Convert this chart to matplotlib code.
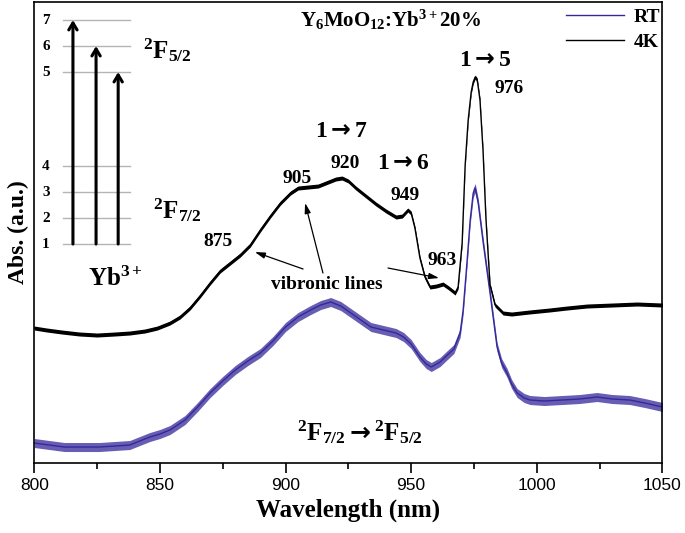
import numpy as np
import matplotlib
matplotlib.use("Agg")
import matplotlib.pyplot as plt
from matplotlib.ticker import MultipleLocator

plt.rcParams['mathtext.fontset'] = 'custom'
plt.rcParams['mathtext.rm'] = 'Liberation Serif:bold'
plt.rcParams['mathtext.bf'] = 'Liberation Serif:bold'
plt.rcParams['mathtext.it'] = 'Liberation Serif:bold'
plt.rcParams['mathtext.sf'] = 'DejaVu Sans:bold'

# 4K spectrum (wavelength nm, absorbance a.u.)
wl_4k = [800, 805, 811, 818, 825, 832, 838, 844, 849, 854,
         858, 862, 866, 870, 874, 878, 882, 886, 890, 894,
         898, 902, 905, 909, 913, 917, 920, 922.5, 925, 928,
         932, 936, 940, 944, 946.5, 948.7, 950, 951.5, 953.5, 955.5,
         957.5, 960, 962.7, 965, 967.5, 968.7, 970.3, 971.5, 972.7, 973.9,
         974.7, 975.5, 976.3, 977.4, 978.6, 979.8, 981.4, 983.4, 986.6, 990,
         997, 1005, 1012, 1020, 1030, 1040, 1050]
abs_4k = [1.35, 1.33, 1.31, 1.29, 1.28, 1.29, 1.30, 1.32, 1.35, 1.40,
          1.46, 1.55, 1.67, 1.80, 1.92, 2.00, 2.08, 2.18, 2.33, 2.47,
          2.60, 2.70, 2.75, 2.76, 2.77, 2.81, 2.84, 2.85, 2.82, 2.75,
          2.67, 2.59, 2.52, 2.46, 2.47, 2.53, 2.50, 2.35, 2.05, 1.86,
          1.76, 1.77, 1.79, 1.75, 1.70, 1.76, 2.20, 2.98, 3.43, 3.71,
          3.81, 3.86, 3.83, 3.63, 3.13, 2.43, 1.78, 1.58, 1.50, 1.49,
          1.51, 1.53, 1.55, 1.57, 1.58, 1.59, 1.58]

# room temperature spectrum
wl_rt = [800, 806, 812, 819, 826, 832, 838, 842, 846, 850,
         854, 857, 860, 865, 870, 875, 880, 885, 890, 895,
         900, 905, 910, 914, 918, 922, 926, 930, 934, 939,
         944, 947, 950, 953.5, 956, 958, 961.5, 964, 967, 969.5,
         970.7, 972.3, 973.5, 974.7, 975.5, 976.7, 978.7, 981.4, 984.2, 986,
         988.2, 990, 992.2, 995, 997.3, 1003, 1010, 1017, 1024, 1030,
         1037, 1043, 1050]
abs_rt = [0.20, 0.18, 0.16, 0.16, 0.16, 0.17, 0.18, 0.22, 0.26, 0.29,
          0.33, 0.38, 0.43, 0.56, 0.70, 0.82, 0.93, 1.02, 1.10, 1.22,
          1.36, 1.46, 1.53, 1.58, 1.61, 1.57, 1.50, 1.43, 1.36, 1.33,
          1.30, 1.26, 1.19, 1.06, 0.99, 0.96, 1.01, 1.07, 1.14, 1.30,
          1.53, 2.03, 2.43, 2.70, 2.75, 2.60, 2.20, 1.70, 1.16, 1.00,
          0.90, 0.79, 0.70, 0.65, 0.63, 0.62, 0.63, 0.64, 0.66, 0.64,
          0.63, 0.60, 0.56]

levels = [1, 2, 3, 4, 5, 6, 7]
level_y = [2.19, 2.45, 2.71, 2.97, 3.91, 4.17, 4.43]

serif = 'Liberation Serif'
blue = '#34289a'
arrow = r'$\mathsf{\rightarrow}$'

fig = plt.figure(figsize=(6.85, 5.33), dpi=100)
ax = fig.add_axes([0.050, 0.1313, 0.917, 0.8649])

wr = np.array(wl_rt); ar = np.array(abs_rt)
wk = np.array(wl_4k); ak = np.array(abs_4k)
ax.fill_between(wr, ar - 0.045, ar + 0.045, color=blue, alpha=0.75, lw=0)
ax.plot(wr, ar, color=blue, lw=1.0, label='RT')
ax.fill_between(wk, ak - 0.02, ak + 0.02, color='black', lw=0)
ax.plot(wk, ak, color='black', lw=1.0, label='4K')

ax.set_xlim(800, 1050)
ax.set_ylim(0, 4.61)
ax.xaxis.set_major_locator(MultipleLocator(50))
ax.xaxis.set_minor_locator(MultipleLocator(25))
ax.tick_params(axis='x', which='major', direction='out', length=7, width=1.2,
               labelsize=12.5, pad=4)
ax.tick_params(axis='x', which='minor', direction='out', length=4, width=1.2)
ax.set_yticks([])
for lbl in ax.get_xticklabels():
    lbl.set_fontfamily('Liberation Sans')
for s in ax.spines.values():
    s.set_linewidth(1.2)

ax.set_xlabel('Wavelength (nm)', fontfamily=serif, fontweight='bold', fontsize=18, labelpad=4)
ax.set_ylabel('Abs. (a.u.)', fontfamily=serif, fontweight='bold', fontsize=17, labelpad=4)

leg = ax.legend(loc='upper right', bbox_to_anchor=(1.0, 0.99), frameon=False,
                borderaxespad=0.0, borderpad=0.1, handlelength=3.0, handletextpad=0.5,
                labelspacing=0.35, prop={'family': serif, 'weight': 'bold', 'size': 14})
for h in leg.get_lines():
    h.set_linewidth(1.0)

# energy level diagram
for lv, yv in zip(levels, level_y):
    ax.plot([811.4, 838.0], [yv, yv], color='#b4b4b4', lw=1.0)
    ax.text(804.7, yv, str(lv), fontfamily=serif, fontweight='bold', fontsize=11,
            ha='center', va='center')
for xa, top in zip([815.4, 824.6, 833.4], [4.43, 4.17, 3.91]):
    ax.annotate('', xy=(xa, top), xytext=(xa, level_y[0]),
                arrowprops=dict(arrowstyle='->,head_length=0.5,head_width=0.3',
                                lw=2.2, color='black', shrinkA=0, shrinkB=0))

tkw = dict(fontfamily=serif, fontweight='bold')
ax.text(843.3, 4.13, r'$^{2}$F$_{5/2}$', fontsize=18, ha='left', va='center', **tkw)
ax.text(847.3, 2.53, r'$^{2}$F$_{7/2}$', fontsize=18, ha='left', va='center', **tkw)
ax.text(832.2, 1.84, r'Yb$^{3+}$', fontsize=18, ha='center', va='center', **tkw)
ax.text(905.8, 4.36, r'Y$_{6}$MoO$_{12}$:Yb$^{3+}$20%', fontsize=15, ha='left',
        va='baseline', **tkw)
ax.text(904.5, 0.23, r'$^{2}$F$_{7/2}$' + arrow + r'$^{2}$F$_{5/2}$', fontsize=18,
        ha='left', va='baseline', **tkw)

for s, xx, yy, fs in [('1' + arrow + '5', 979.4, 4.03, 17), ('976', 989.1, 3.75, 14),
                      ('1' + arrow + '7', 922.2, 3.32, 17), ('920', 923.7, 3.00, 14),
                      ('905', 904.6, 2.85, 14), ('1' + arrow + '6', 946.8, 3.00, 17),
                      ('949', 947.6, 2.68, 14), ('963', 962.3, 2.03, 14),
                      ('875', 873.2, 2.22, 14), ('vibronic lines', 916.5, 1.79, 14)]:
    ax.text(xx, yy, s, fontsize=fs, ha='center', va='center', **tkw)

for tail, head in [((907.0, 1.94), (887.8, 2.11)),
                   ((914.9, 1.90), (907.8, 2.60)),
                   ((940.8, 1.95), (961.1, 1.85))]:
    ax.annotate('', xy=head, xytext=tail,
                arrowprops=dict(arrowstyle='-|>,head_length=0.6,head_width=0.18',
                                lw=0.9, color='black', shrinkA=0, shrinkB=0))

fig.savefig('out.png', dpi=100)
